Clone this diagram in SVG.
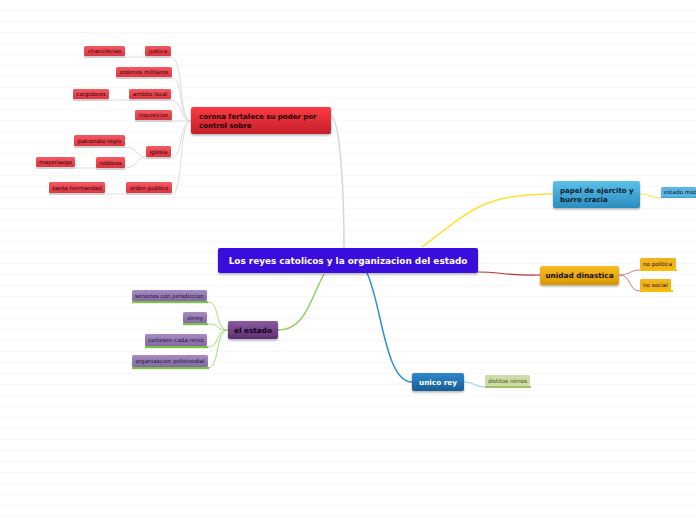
<svg xmlns="http://www.w3.org/2000/svg" width="696" height="520" viewBox="0 0 696 520">
<defs>
<pattern id="ruled" x="0" y="0" width="696" height="11" patternUnits="userSpaceOnUse">
<line x1="0" y1="10.5" x2="696" y2="10.5" stroke="#f8f8f8" stroke-width="1"/>
</pattern>
<linearGradient id="gRed" x1="0" y1="0" x2="0" y2="1"><stop offset="0" stop-color="#fb3a44"/><stop offset="1" stop-color="#c51f29"/></linearGradient>
<linearGradient id="gRedS" x1="0" y1="0" x2="0" y2="1"><stop offset="0" stop-color="#f55a62"/><stop offset="1" stop-color="#dc3340"/></linearGradient>
<linearGradient id="gBlue" x1="0" y1="0" x2="0" y2="1"><stop offset="0" stop-color="#5cc0ea"/><stop offset="1" stop-color="#2b8dc0"/></linearGradient>
<linearGradient id="gGold" x1="0" y1="0" x2="0" y2="1"><stop offset="0" stop-color="#f7bd22"/><stop offset="1" stop-color="#d89700"/></linearGradient>
<linearGradient id="gPurple" x1="0" y1="0" x2="0" y2="1"><stop offset="0" stop-color="#8b5c9f"/><stop offset="1" stop-color="#5d2e73"/></linearGradient>
<linearGradient id="gPurpleS" x1="0" y1="0" x2="0" y2="1"><stop offset="0" stop-color="#a68cc2"/><stop offset="1" stop-color="#8468a6"/></linearGradient>
<linearGradient id="gDBlue" x1="0" y1="0" x2="0" y2="1"><stop offset="0" stop-color="#2d88cc"/><stop offset="1" stop-color="#1a5c96"/></linearGradient>
<filter id="sh" x="-10%" y="-20%" width="120%" height="160%"><feDropShadow dx="0" dy="1.5" stdDeviation="1" flood-color="#000" flood-opacity="0.3"/></filter>
</defs>
<style>
.main{font-family:"DejaVu Sans",sans-serif;font-weight:bold}
.small{font-family:"DejaVu Sans",sans-serif;font-size:5.6px}
.shadow{fill:#cfcfcf}
.gray{fill:none;stroke:#dcdcdc;stroke-width:1}
</style>
<rect width="696" height="520" fill="#ffffff"/>
<rect width="696" height="520" fill="url(#ruled)"/>

<g id="connectors" fill="none">
<path d="M331,116 C341,120 344,200 344,248" stroke="#d6d6d6" stroke-width="1.5"/>
<path d="M422,247 C470,212 480,194 553,194" stroke="#ffe033" stroke-width="1.5"/>
<path d="M640,194 C650,194 650,198 661,198" stroke="#ffe033" stroke-width="1"/>
<path d="M478,272 C500,272 510,276 540,275" stroke="#b83232" stroke-width="1.2"/>
<path d="M619,275 C630,275 630,270 640,270" stroke="#d08080" stroke-width="1"/>
<path d="M619,275 C632,275 628,291 640,291" stroke="#d08080" stroke-width="1"/>
<path d="M324,274 C310,300 305,330 278,330" stroke="#8fcf5a" stroke-width="1.5"/>
<path d="M228,330 C215,330 220,302 208,302" stroke="#a9db7c" stroke-width="1"/>
<path d="M228,330 C215,330 220,324 208,324" stroke="#a9db7c" stroke-width="1"/>
<path d="M228,330 C215,330 220,347 208,347" stroke="#a9db7c" stroke-width="1"/>
<path d="M228,330 C215,330 220,368 208,368" stroke="#a9db7c" stroke-width="1"/>
<path d="M367,273 C382,305 385,382 412,382" stroke="#2b90d6" stroke-width="1.5"/>
<path d="M464,382 C474,382 475,387 485,387" stroke="#8cc6ea" stroke-width="1"/>
<path class="gray" d="M191,121 C178,121 184,57 171,57"/>
<path class="gray" d="M191,121 C178,121 184,78 172,78"/>
<path class="gray" d="M191,121 C178,121 184,100 171,100"/>
<path class="gray" d="M191,121 C178,121 184,121 172,121"/>
<path class="gray" d="M191,121 C178,121 184,158 171,158"/>
<path class="gray" d="M191,121 C178,121 184,194 172,194"/>
<path class="gray" d="M125,57 L145,57"/>
<path class="gray" d="M109,100 L129,100"/>
<path class="gray" d="M146,157 C136,157 138,147 125,147"/>
<path class="gray" d="M146,157 C136,157 138,168 125,168"/>
<path class="gray" d="M75,168 L96,168"/>
<path class="gray" d="M105,194 L126,194"/>
</g>

<g id="central">
<rect x="218" y="248" width="260" height="25" rx="2" fill="#3a10dc" filter="url(#sh)"/>
<text class="main" x="348" y="264" font-size="8.9" fill="#ffffff" text-anchor="middle">Los reyes catolicos y la organizacion del estado</text>
</g>

<g id="corona">
<rect x="191" y="107" width="140" height="27" rx="2" fill="url(#gRed)" filter="url(#sh)"/>
<text class="main" x="199" y="119" font-size="7" fill="#1a0000">corona fortalece su poder por</text>
<text class="main" x="199" y="128" font-size="7" fill="#1a0000">control sobre</text>
</g>

<g id="justica"><rect class="shadow" x="145" y="55" width="26" height="3" rx="1"/><rect x="145" y="46" width="26" height="10" rx="1.5" fill="url(#gRedS)"/><text class="small" x="158" y="53" text-anchor="middle" fill="#2a0505">justica</text></g>
<g id="chancilerias"><rect class="shadow" x="84" y="55" width="41" height="3" rx="1"/><rect x="84" y="46" width="41" height="10" rx="1.5" fill="url(#gRedS)"/><text class="small" x="104.5" y="53" text-anchor="middle" fill="#2a0505">chancilerias</text></g>
<g id="ordenes"><rect class="shadow" x="116" y="76" width="56" height="3" rx="1"/><rect x="116" y="67" width="56" height="10" rx="1.5" fill="url(#gRedS)"/><text class="small" x="144" y="74" text-anchor="middle" fill="#2a0505">ordenes militares</text></g>
<g id="ambito"><rect class="shadow" x="129" y="98" width="42" height="3" rx="1"/><rect x="129" y="89" width="42" height="10" rx="1.5" fill="url(#gRedS)"/><text class="small" x="150" y="96" text-anchor="middle" fill="#2a0505">ambito local</text></g>
<g id="corgidores"><rect class="shadow" x="73" y="98" width="36" height="3" rx="1"/><rect x="73" y="89" width="36" height="10" rx="1.5" fill="url(#gRedS)"/><text class="small" x="91" y="96" text-anchor="middle" fill="#2a0505">corgidores</text></g>
<g id="inquisicion"><rect class="shadow" x="135" y="119" width="37" height="3" rx="1"/><rect x="135" y="110" width="37" height="10" rx="1.5" fill="url(#gRedS)"/><text class="small" x="153.5" y="117" text-anchor="middle" fill="#2a0505">inquisicion</text></g>
<g id="patronato"><rect class="shadow" x="74" y="145" width="51" height="3" rx="1"/><rect x="74" y="135" width="51" height="11" rx="1.5" fill="url(#gRedS)"/><text class="small" x="99.5" y="142.5" text-anchor="middle" fill="#2a0505">patronato regio</text></g>
<g id="iglesia"><rect class="shadow" x="146" y="156" width="25" height="3" rx="1"/><rect x="146" y="146" width="25" height="11" rx="1.5" fill="url(#gRedS)"/><text class="small" x="158.5" y="153.5" text-anchor="middle" fill="#2a0505">iglesia</text></g>
<g id="nobleza"><rect class="shadow" x="96" y="167" width="29" height="3" rx="1"/><rect x="96" y="157" width="29" height="11" rx="1.5" fill="url(#gRedS)"/><text class="small" x="110.5" y="164.5" text-anchor="middle" fill="#2a0505">nobleza</text></g>
<g id="mayoriazgo"><rect class="shadow" x="36" y="166" width="39" height="3" rx="1"/><rect x="36" y="157" width="39" height="10" rx="1.5" fill="url(#gRedS)"/><text class="small" x="55.5" y="164" text-anchor="middle" fill="#2a0505">mayoriazgo</text></g>
<g id="orden"><rect class="shadow" x="126" y="192" width="46" height="3" rx="1"/><rect x="126" y="182" width="46" height="11" rx="1.5" fill="url(#gRedS)"/><text class="small" x="149" y="189.5" text-anchor="middle" fill="#2a0505">orden publico</text></g>
<g id="santa"><rect class="shadow" x="49" y="192" width="56" height="3" rx="1"/><rect x="49" y="182" width="56" height="11" rx="1.5" fill="url(#gRedS)"/><text class="small" x="77" y="189.5" text-anchor="middle" fill="#2a0505">santa hermandad</text></g>

<g id="papel">
<rect x="553" y="181" width="87" height="27" rx="2" fill="url(#gBlue)" filter="url(#sh)"/>
<text class="main" x="560" y="192.5" font-size="7" fill="#0a1a2a">papel de ejercito y</text>
<text class="main" x="560" y="201.5" font-size="7" fill="#0a1a2a">burro cracia</text>
</g>
<g id="estado-mod">
<rect x="661" y="196" width="35" height="2" fill="#3aa0dc"/>
<rect x="661" y="187" width="35" height="10" rx="1.5" fill="#5ab4e0"/>
<text class="small" x="664" y="194" fill="#0a1a2a">estado mod</text>
</g>

<g id="unidad">
<rect x="540" y="266" width="79" height="19" rx="2" fill="url(#gGold)" filter="url(#sh)"/>
<text class="main" x="579.5" y="278.3" font-size="7.3" fill="#1a1000" text-anchor="middle">unidad dinastica</text>
</g>
<g id="no-politica"><rect x="640" y="269" width="37" height="2" fill="#f5c200"/><rect x="640" y="258" width="36" height="11" rx="1.5" fill="#f2b41c"/><text class="small" x="643" y="265.5" fill="#1a1000">no politica</text></g>
<g id="no-social"><rect x="640" y="290" width="33" height="2" fill="#f5c200"/><rect x="640" y="279" width="31" height="11" rx="1.5" fill="#f2b41c"/><text class="small" x="643" y="286.5" fill="#1a1000">no social</text></g>

<g id="el-estado">
<rect x="228" y="321" width="50" height="18" rx="2" fill="url(#gPurple)" filter="url(#sh)"/>
<text class="main" x="253" y="332.8" font-size="7.3" fill="#0f0015" text-anchor="middle">el estado</text>
</g>
<g id="senorios"><rect x="132" y="301" width="76" height="2.2" fill="#7cc144"/><rect x="132" y="290" width="75" height="11" rx="1.5" fill="url(#gPurpleS)"/><text class="small" x="169.5" y="297.5" text-anchor="middle" fill="#1a1028">senorios con jurisdiccion</text></g>
<g id="virrey"><rect x="183" y="323" width="25" height="2.2" fill="#7cc144"/><rect x="183" y="312" width="24" height="11" rx="1.5" fill="url(#gPurpleS)"/><text class="small" x="195" y="319.5" text-anchor="middle" fill="#1a1028">virrey</text></g>
<g id="cortesen"><rect x="145" y="346" width="63" height="2.2" fill="#7cc144"/><rect x="145" y="334" width="62" height="12" rx="1.5" fill="url(#gPurpleS)"/><text class="small" x="176" y="342" text-anchor="middle" fill="#1a1028">cortesen cada reino</text></g>
<g id="organizacion"><rect x="132" y="367" width="77" height="2.2" fill="#7cc144"/><rect x="132" y="355" width="76" height="12" rx="1.5" fill="url(#gPurpleS)"/><text class="small" x="170" y="363" text-anchor="middle" fill="#1a1028">organizacion polisinodial</text></g>

<g id="unico-rey">
<rect x="412" y="373" width="52" height="18" rx="2" fill="url(#gDBlue)" filter="url(#sh)"/>
<text class="main" x="438" y="384.8" font-size="7.3" fill="#ffffff" text-anchor="middle">unico rey</text>
</g>
<g id="distitos"><rect x="485" y="386" width="46" height="2" fill="#9ec26a"/><rect x="485" y="375" width="45" height="11" rx="1.5" fill="#cfdcaa"/><text class="small" x="507.5" y="382.5" text-anchor="middle" fill="#3a4a10">distitos reinos</text></g>
</svg>
